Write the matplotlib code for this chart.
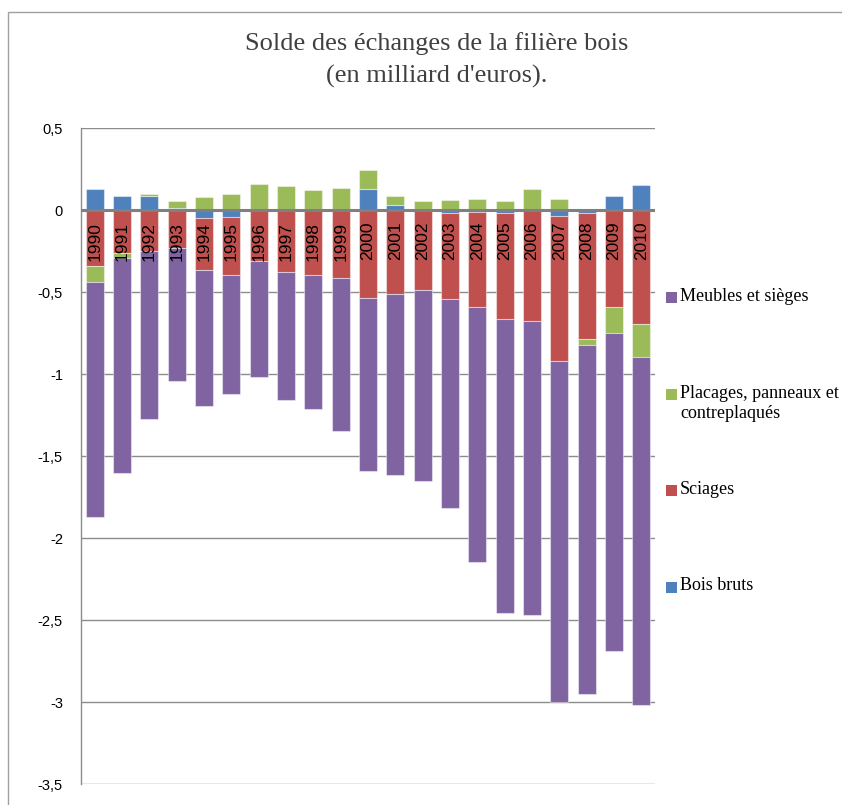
import matplotlib
matplotlib.use("Agg")
import matplotlib.pyplot as plt
from matplotlib.patches import Rectangle
import numpy as np

years = [str(y) for y in range(1990, 2011)]

# series in Excel order (first series is stacked nearest the axis)
bois_bruts = [0.125, 0.087, 0.083, 0.011, -0.048, -0.04, 0.008, 0.0, 0.005, 0.0, 0.127,
              0.03, 0.0, -0.02, -0.013, -0.016, 0.0, -0.035, -0.016, 0.087, 0.151]
sciages = [-0.34, -0.264, -0.249, -0.231, -0.317, -0.356, -0.309, -0.38, -0.397, -0.415, -0.535,
           -0.51, -0.488, -0.523, -0.579, -0.649, -0.679, -0.887, -0.769, -0.59, -0.695]
placages = [-0.10, -0.028, 0.012, 0.045, 0.08, 0.095, 0.152, 0.144, 0.114, 0.136, 0.115,
            0.057, 0.056, 0.062, 0.07, 0.055, 0.126, 0.069, -0.038, -0.162, -0.203]
meubles = [-1.43, -1.31, -1.026, -0.81, -0.833, -0.728, -0.711, -0.777, -0.817, -0.935, -1.058,
           -1.108, -1.162, -1.277, -1.552, -1.792, -1.789, -2.078, -2.129, -1.94, -2.118]

series = [bois_bruts, sciages, placages, meubles]
names = ["Bois bruts", "Sciages", "Placages, panneaux et\ncontreplaqués", "Meubles et sièges"]
colors = ["#4F81BD", "#C0504D", "#9BBB59", "#8064A2"]

fig = plt.figure(figsize=(8.42, 8.05), dpi=100)
ax = fig.add_axes([81 / 842, 1 - 784 / 805, 574 / 842, 656 / 805])

x = np.arange(len(years))
pos_base = np.zeros(len(years))
neg_base = np.zeros(len(years))
for vals, col in zip(series, colors):
    v = np.array(vals)
    base = np.where(v >= 0, pos_base, neg_base)
    ax.bar(x, v, bottom=base, width=0.65, color=col,
           edgecolor=(1, 1, 1, 0.45), linewidth=0.8, zorder=3)
    pos_base = pos_base + np.clip(v, 0, None)
    neg_base = neg_base + np.clip(v, None, 0)

# category labels sit just below the zero line, inside the bars
for xi, yr in zip(x, years):
    ax.text(xi, -0.072, yr, rotation=90, ha="center", va="top",
            fontsize=12.5, family="Liberation Sans", color="black", zorder=5)

ax.set_xlim(-0.5, len(years) - 0.5)
ax.set_ylim(-3.5, 0.5)
ticks = np.arange(-3.5, 0.51, 0.5)
ax.set_yticks(ticks)
ax.set_yticklabels([("%g" % t).replace(".", ",") for t in ticks],
                   fontsize=10.5, family="Liberation Sans")
ax.tick_params(axis="y", length=0, pad=13)
ax.set_xticks([])
ax.yaxis.grid(True, color="#8c8c8c", linewidth=1.0, zorder=0)
ax.axhline(0, color="#808080", linewidth=2.2, zorder=4)
for s in ["top", "right", "bottom"]:
    ax.spines[s].set_visible(False)
ax.spines["left"].set_color("#8c8c8c")
ax.spines["left"].set_linewidth(1.0)

fig.text(437 / 842, 1 - 44 / 805, "Solde des échanges de la filière bois",
         ha="center", va="center", fontsize=19, family="Liberation Serif", color="#404040")
fig.text(437 / 842, 1 - 76 / 805, "(en milliard d'euros).",
         ha="center", va="center", fontsize=19, family="Liberation Serif", color="#404040")

# legend drawn in reverse series order, top to bottom
leg_y = [298, 395, 491, 587]
for yy, name, col in zip(leg_y, names[::-1], colors[::-1]):
    fig.patches.append(Rectangle((666 / 842, 1 - (yy + 5.5) / 805), 11 / 842, 11 / 805,
                                 transform=fig.transFigure, facecolor=col, edgecolor="none"))
    fig.text(680 / 842, 1 - (yy - 10) / 805, name, ha="left", va="top",
             fontsize=13, family="Liberation Serif", color="black", linespacing=1.25)

# chart frame
fig.patches.append(Rectangle((8 / 842, -0.05), 1.1, 1 - 12 / 805 + 0.05,
                             transform=fig.transFigure, facecolor="none",
                             edgecolor="#a0a0a0", linewidth=1.0))

fig.savefig("out.png", dpi=100)
